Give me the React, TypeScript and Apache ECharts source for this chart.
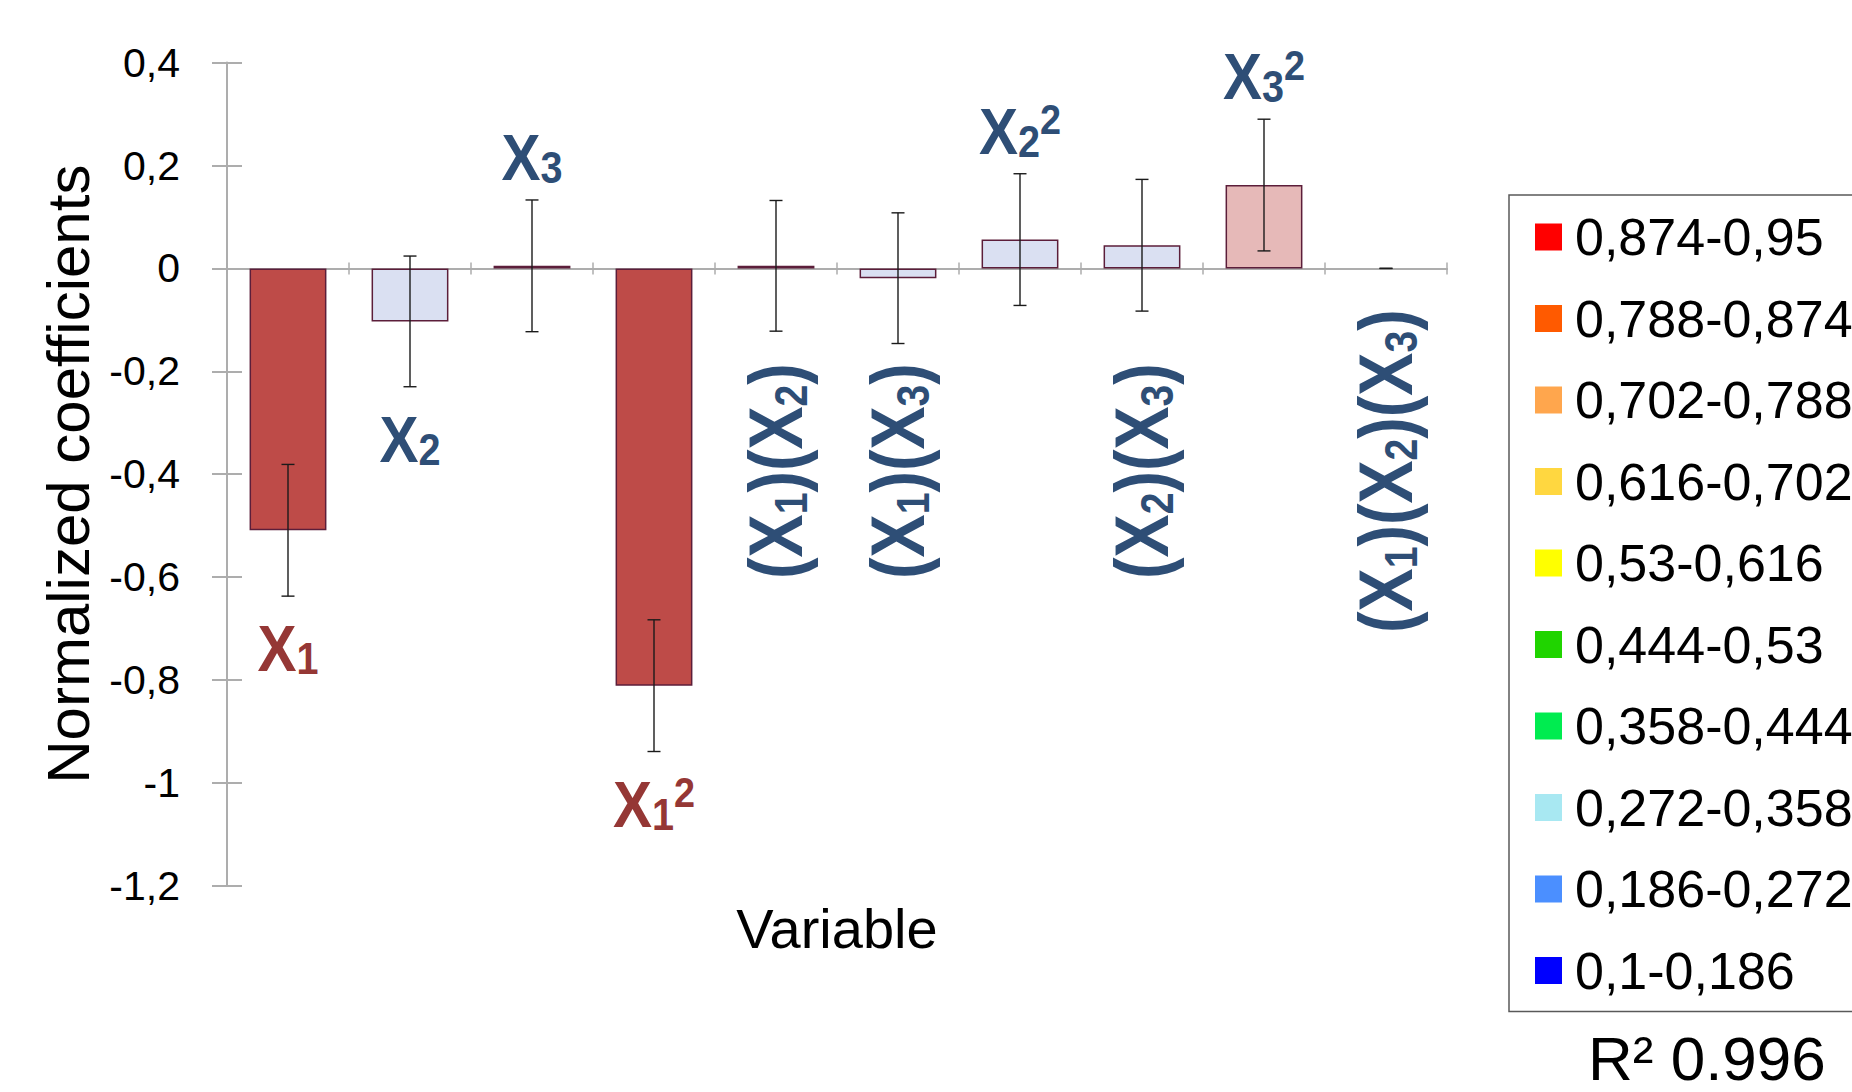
import React, { useEffect, useRef } from "react";
import * as echarts from "echarts";

// ---------- data ----------
const categories = ["X1", "X2", "X3", "X1²", "(X1)(X2)", "(X1)(X3)", "X2²", "(X2)(X3)", "X3²", "(X1)(X2)(X3)"];
const values = [-0.509, -0.103, 0.005, -0.811, 0.005, -0.019, 0.056, 0.045, 0.162, 0];
const errors = [0.128, 0.127, 0.128, 0.128, 0.127, 0.127, 0.128, 0.128, 0.128, 0];
const barColors = ["#BE4B48", "#DAE0F2", "#DAE0F2", "#BE4B48", "#DAE0F2", "#DAE0F2", "#DAE0F2", "#DAE0F2", "#E6B9B8", "#DAE0F2"];
const labelTexts = [
  "{m|X}{sub|1}",
  "{m|X}{sub|2}",
  "{m|X}{sub|3}",
  "{m|X}{sub|1}{sup|2}",
  "{m|(X}{sub|1}{m|)(X}{sub|2}{m|)}",
  "{m|(X}{sub|1}{m|)(X}{sub|3}{m|)}",
  "{m|X}{sub|2}{sup|2}",
  "{m|(X}{sub|2}{m|)(X}{sub|3}{m|)}",
  "{m|X}{sub|3}{sup|2}",
  "{m|(X}{sub|1}{m|)(X}{sub|2}{m|)(X}{sub|3}{m|)}",
];
const labelPlacement = ["below", "below", "above", "below", "vertical", "vertical", "above", "vertical", "above", "vertical"];
const labelColors = ["#953735", "#2E4E76", "#2E4E76", "#953735", "#2E4E76", "#2E4E76", "#2E4E76", "#2E4E76", "#2E4E76", "#2E4E76"];
const verticalLabelCenter = -0.394;
const yMin = -1.2;
const yMax = 0.4;
const yInterval = 0.2;
const legendRanges = [
  "0,874-0,95",
  "0,788-0,874",
  "0,702-0,788",
  "0,616-0,702",
  "0,53-0,616",
  "0,444-0,53",
  "0,358-0,444",
  "0,272-0,358",
  "0,186-0,272",
  "0,1-0,186",
];
const legendColors = ["#FF0000", "#FF5A00", "#FFA64D", "#FFD740", "#FFFF00", "#20D400", "#00EC50", "#A8E8F2", "#4B8FFF", "#0000FF"];
const r2Text = "R² 0.996";
const xTitle = "Variable";
const yTitle = "Normalized coefficients";

const SANS = "'Liberation Sans', Arial, sans-serif";
const AXIS_GRAY = "#ADADAD";

function richFor(color: string, vertical: boolean) {
  if (vertical) {
    return {
      m: { fontSize: 76, lineHeight: 76, fontWeight: "bold", fontFamily: SANS, fill: color },
      sub: { fontSize: 46, lineHeight: 58, verticalAlign: "bottom", fontWeight: "bold", fontFamily: SANS, fill: color },
      sup: { fontSize: 44, lineHeight: 44, verticalAlign: "top", fontWeight: "bold", fontFamily: SANS, fill: color },
    };
  }
  return {
    m: { fontSize: 65, lineHeight: 65, fontWeight: "bold", fontFamily: SANS, fill: color },
    sub: { fontSize: 44, lineHeight: 34, verticalAlign: "bottom", fontWeight: "bold", fontFamily: SANS, fill: color },
    sup: { fontSize: 42, lineHeight: 42, verticalAlign: "top", fontWeight: "bold", fontFamily: SANS, fill: color },
  };
}

export default function App() {
  const ref = useRef<HTMLDivElement>(null);

  useEffect(() => {
    if (!ref.current) return;
    document.body.style.margin = "0";
    const chart = echarts.init(ref.current, undefined, { renderer: "svg" });

    const barData = values.map((v, i) => ({
      value: v,
      itemStyle: { color: barColors[i], borderColor: "#5C1E3A", borderWidth: v === 0 ? 0 : 1.5 },
    }));

    const errData = values.map((v, i) => [i, v, errors[i]]);

    const labelData = categories.map((c, i) => {
      const p = labelPlacement[i];
      const anchor =
        p === "above" ? values[i] + errors[i] : p === "below" ? values[i] - errors[i] : verticalLabelCenter;
      return [i, anchor];
    });

    const legendSeries = legendRanges.map((n, i) => ({
      type: "scatter",
      name: n,
      data: [],
      itemStyle: { color: legendColors[i], opacity: 1 },
      xAxisIndex: 0,
      yAxisIndex: 0,
    }));

    const option: any = {
      animation: false,
      backgroundColor: "#ffffff",
      textStyle: { fontFamily: SANS },
      grid: { left: 227, right: 405, top: 62.6, bottom: 206.2, containLabel: false, outerBoundsMode: "none" },
      xAxis: [
        {
          type: "category",
          data: categories,
          position: "bottom",
          axisLine: { show: true, onZero: true, lineStyle: { color: AXIS_GRAY, width: 2 } },
          axisTick: { show: true, length: 6, interval: 0, alignWithLabel: false, lineStyle: { color: AXIS_GRAY, width: 1.5 } },
          axisLabel: { show: false, interval: 0 },
          splitLine: { show: false },
        },
        {
          type: "category",
          data: categories,
          position: "bottom",
          axisLine: { show: true, onZero: true, lineStyle: { color: AXIS_GRAY, width: 2 } },
          axisTick: { show: true, inside: true, length: 6, interval: 0, alignWithLabel: false, lineStyle: { color: AXIS_GRAY, width: 1.5 } },
          axisLabel: { show: false, interval: 0 },
          splitLine: { show: false },
        },
        {
          type: "category",
          data: categories,
          position: "bottom",
          axisLine: { show: false, onZero: false },
          axisTick: { show: false },
          axisLabel: { show: false },
          splitLine: { show: false },
          name: xTitle,
          nameLocation: "middle",
          nameGap: 15,
          nameTextStyle: { fontSize: 56, fontFamily: SANS, color: "#000", verticalAlign: "top" },
        },
      ],
      yAxis: [
        {
          type: "value",
          min: yMin,
          max: yMax,
          interval: yInterval,
          position: "left",
          axisLine: { show: true, lineStyle: { color: AXIS_GRAY, width: 2 } },
          axisTick: { show: true, length: 15, lineStyle: { color: AXIS_GRAY, width: 2 } },
          axisLabel: {
            show: true,
            margin: 47,
            fontSize: 41,
            fontFamily: SANS,
            color: "#000",
            formatter: (v: number) => String(Number(v.toFixed(1))).replace(".", ","),
          },
          splitLine: { show: false },
          name: yTitle,
          nameLocation: "middle",
          nameGap: 125,
          nameTextStyle: { fontSize: 60, fontFamily: SANS, color: "#000" },
        },
        {
          type: "value",
          min: yMin,
          max: yMax,
          interval: yInterval,
          position: "left",
          axisLine: { show: false },
          axisTick: { show: true, inside: true, length: 15, lineStyle: { color: AXIS_GRAY, width: 2 } },
          axisLabel: { show: false },
          splitLine: { show: false },
        },
      ],
      legend: {
        orient: "vertical",
        left: 1509,
        top: 195,
        padding: [11, 80, 10, 26],
        itemWidth: 27,
        itemHeight: 27,
        itemGap: 19.5,
        icon: "rect",
        borderColor: "#595959",
        borderWidth: 1.5,
        selectedMode: false,
        data: legendRanges,
        itemStyle: { opacity: 1 },
        textStyle: { fontSize: 52, lineHeight: 62, fontFamily: SANS, color: "#000", padding: [0, 0, 0, 8] },
      },
      graphic: [
        {
          type: "text",
          left: 1588,
          top: 1027,
          style: { text: r2Text, fontSize: 62, fontFamily: SANS, fill: "#000" },
        },
      ],
      series: [
        {
          type: "bar",
          name: "coefficients",
          xAxisIndex: 0,
          yAxisIndex: 0,
          barWidth: "63%",
          data: barData,
          z: 2,
        },
        {
          type: "custom",
          name: "error",
          xAxisIndex: 0,
          yAxisIndex: 0,
          z: 5,
          data: errData,
          renderItem: (params: any, api: any) => {
            const x = api.value(0);
            const v = api.value(1);
            const e = api.value(2);
            const top = api.coord([x, v + e]);
            const bot = api.coord([x, v - e]);
            const half = 6.5;
            const style = { stroke: "#1a1a1a", lineWidth: 1.4 };
            return {
              type: "group",
              children: [
                { type: "line", shape: { x1: top[0], y1: top[1], x2: bot[0], y2: bot[1] }, style },
                { type: "line", shape: { x1: top[0] - half, y1: top[1], x2: top[0] + half, y2: top[1] }, style },
                { type: "line", shape: { x1: bot[0] - half, y1: bot[1], x2: bot[0] + half, y2: bot[1] }, style },
              ],
            };
          },
        },
        {
          type: "custom",
          name: "labels",
          xAxisIndex: 0,
          yAxisIndex: 0,
          silent: true,
          z: 6,
          data: labelData,
          renderItem: (params: any, api: any) => {
            const i = params.dataIndex;
            const p = labelPlacement[i];
            const pt = api.coord([api.value(0), api.value(1)]);
            const vertical = p === "vertical";
            return {
              type: "text",
              x: pt[0],
              y: p === "above" ? pt[1] - 10 : p === "below" ? pt[1] + 20 : pt[1],
              rotation: vertical ? Math.PI / 2 : 0,
              scaleX: vertical ? 0.85 : 0.9,
              style: {
                text: labelTexts[i],
                rich: richFor(labelColors[i], vertical),
                align: "center",
                verticalAlign: p === "above" ? "bottom" : p === "below" ? "top" : "middle",
                fill: labelColors[i],
                fontFamily: SANS,
                fontWeight: "bold",
                fontSize: vertical ? 76 : 65,
              },
            };
          },
        },
        ...legendSeries,
      ],
    };

    chart.setOption(option);
    return () => chart.dispose();
  }, []);

  return (
    <div
      ref={ref}
      style={{ position: "fixed", left: 0, top: 0, width: 1852, height: 1092, background: "#fff" }}
    />
  );
}
